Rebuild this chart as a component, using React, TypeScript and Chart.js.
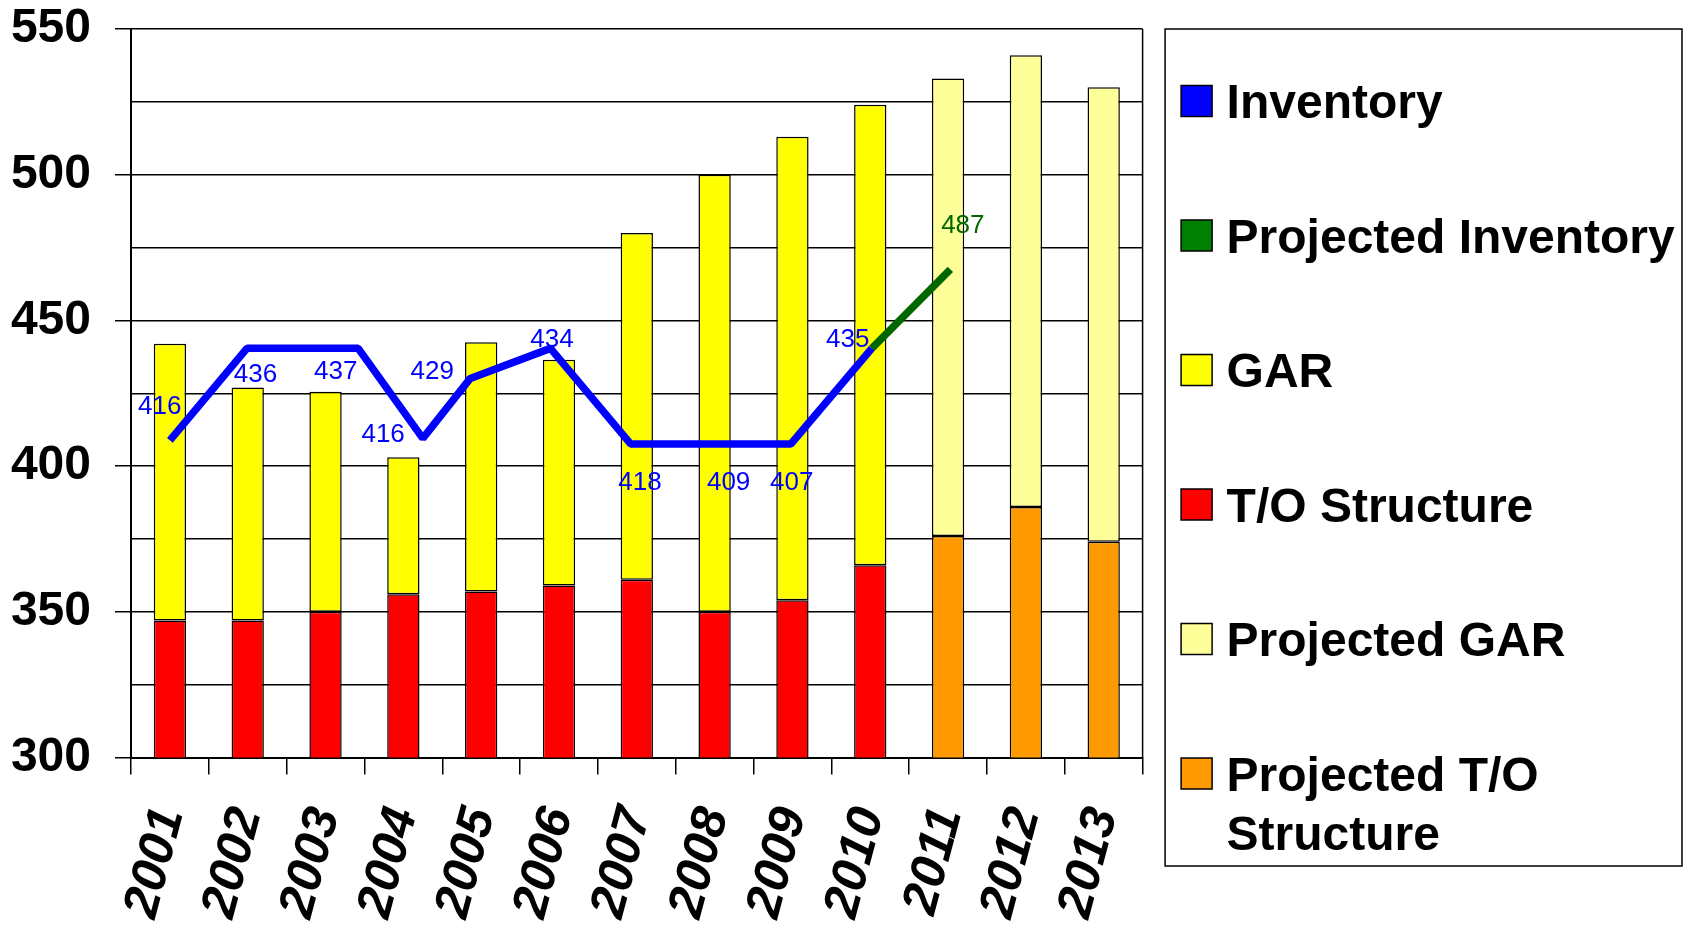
import React, { useEffect, useRef } from 'react';
import { Chart, registerables } from 'chart.js';

Chart.register(...registerables);

const FONT = '"Liberation Sans", Arial, Helvetica, sans-serif';

// ---- data ----
const years = ['2001', '2002', '2003', '2004', '2005', '2006', '2007', '2008', '2009', '2010', '2011', '2012', '2013'];
const toStructure = [347, 347, 350, 356, 357, 359, 361, 350, 354, 366, null, null, null];
const gar = [95, 80, 75.5, 47, 85.5, 77.5, 119, 150, 159, 158, null, null, null];
const projectedTO = [null, null, null, null, null, null, null, null, null, null, 376, 386, 374];
const projectedGAR = [null, null, null, null, null, null, null, null, null, null, 157, 155, 156];

// inventory line vertices (category-index position, value)
const inventoryX = [0, 0.99, 2.42, 3.25, 3.86, 4.89, 5.92, 7.98, 9.02];
const inventoryY = [408.8, 440.4, 440.4, 409.5, 430.1, 440.4, 407.6, 407.6, 440.4];
const projectedX = [9.02, 10.03];
const projectedY = [440.4, 467.5];

// value labels
const inventoryLabels = ['416', '436', '437', '416', '429', '434', '418', '409', '407', '435'];
const projectedLabels = ['487'];
const inventoryLabelX = [-0.13, 1.1, 2.13, 2.74, 3.37, 4.91, 6.04, 7.18, 7.99, 8.71];
const inventoryLabelY = [420.4, 431.3, 432.4, 410.7, 432.4, 443.5, 394.1, 394.1, 394.1, 443.5];
const projectedLabelX = [10.19];
const projectedLabelY = [482.5];

const yMin = 300;
const yMax = 550;
const yStep = 25;
const yLabelStep = 50;

const labelPlugin = {
  id: 'valueLabels',
  afterDatasetsDraw(chart: any) {
    const { ctx } = chart;
    const xs = chart.scales.x2;
    const ys = chart.scales.y;
    ctx.save();
    ctx.font = `26px ${FONT}`;
    ctx.textAlign = 'center';
    ctx.textBaseline = 'middle';
    ctx.fillStyle = '#0000ff';
    inventoryLabels.forEach((t, i) => {
      ctx.fillText(t, xs.getPixelForValue(inventoryLabelX[i]), ys.getPixelForValue(inventoryLabelY[i]));
    });
    ctx.fillStyle = '#006600';
    projectedLabels.forEach((t, i) => {
      ctx.fillText(t, xs.getPixelForValue(projectedLabelX[i]), ys.getPixelForValue(projectedLabelY[i]));
    });
    ctx.restore();
  },
};

const frameAndLegendPlugin = {
  id: 'frameLegend',
  afterDraw(chart: any) {
    const { ctx, chartArea } = chart;
    ctx.save();
    // right frame line of plot area
    ctx.strokeStyle = '#000';
    ctx.lineWidth = 1.5;
    ctx.beginPath();
    ctx.moveTo(chartArea.right, chartArea.top);
    ctx.lineTo(chartArea.right, chartArea.bottom);
    ctx.stroke();

    // legend box
    const left = chartArea.right + 22.5;
    const top = chartArea.top;
    const right = chart.width - 5;
    const bottom = 866;
    ctx.lineWidth = 1.5;
    ctx.strokeRect(left, top, right - left, bottom - top);

    const fontSize = 48;
    ctx.font = `bold ${fontSize}px ${FONT}`;
    ctx.textAlign = 'left';
    ctx.textBaseline = 'alphabetic';
    const maxTextW = right - (left + 61.5) - 6;
    chart.data.datasets.forEach((ds: any, i: number) => {
      const cy = top + 72 + i * 134.5;
      const bx = left + 16;
      ctx.fillStyle = ds.legendColor || ds.backgroundColor;
      ctx.fillRect(bx, cy - 15.5, 31, 31);
      ctx.strokeStyle = '#000';
      ctx.lineWidth = 1.5;
      ctx.strokeRect(bx, cy - 15.5, 31, 31);
      // wrap words
      const words = String(ds.label).split(' ');
      const lines: string[] = [];
      let cur = '';
      words.forEach((w) => {
        const test = cur ? cur + ' ' + w : w;
        if (cur && ctx.measureText(test).width > maxTextW) {
          lines.push(cur);
          cur = w;
        } else cur = test;
      });
      if (cur) lines.push(cur);
      ctx.fillStyle = '#000';
      lines.forEach((ln, k) => {
        ctx.fillText(ln, left + 61.5, cy + 17 + k * 59);
      });
    });
    ctx.restore();
  },
};

export default function App() {
  const ref = useRef<HTMLCanvasElement | null>(null);

  useEffect(() => {
    if (!ref.current) return;
    const barCommon = {
      type: 'bar',
      xAxisID: 'x',
      yAxisID: 'y',
      borderColor: '#000',
      borderWidth: 1.5,
      borderSkipped: false,
      grouped: false,
      stack: 'bars',
      barPercentage: 0.415,
      categoryPercentage: 1,
    };
    const chart = new Chart(ref.current, {
      type: 'bar',
      data: {
        labels: years,
        datasets: [
          {
            type: 'line',
            label: 'Inventory',
            data: inventoryX.map((x, i) => ({ x, y: inventoryY[i] })),
            xAxisID: 'x2',
            yAxisID: 'y2',
            borderColor: '#0000ff',
            backgroundColor: '#0000ff',
            borderWidth: 7.5,
            pointRadius: 0,
            tension: 0,
            borderJoinStyle: 'bevel',
            order: 0,
          } as any,
          {
            type: 'line',
            label: 'Projected Inventory',
            data: projectedX.map((x, i) => ({ x, y: projectedY[i] })),
            xAxisID: 'x2',
            yAxisID: 'y2',
            borderColor: '#006600',
            backgroundColor: '#008000',
            borderWidth: 7.5,
            pointRadius: 0,
            tension: 0,
            order: 0,
          } as any,
          { ...barCommon, label: 'GAR', data: gar, backgroundColor: '#ffff00', order: 2 } as any,
          { ...barCommon, label: 'T/O Structure', data: toStructure, backgroundColor: '#ff0000', order: 1 } as any,
          { ...barCommon, label: 'Projected GAR', data: projectedGAR, backgroundColor: '#ffff99', order: 4 } as any,
          { ...barCommon, label: 'Projected T/O Structure', data: projectedTO, backgroundColor: '#ff9900', order: 3 } as any,
        ],
      },
      options: {
        responsive: false,
        animation: false,
        layout: { padding: { left: 0, top: 29, right: 544.4, bottom: 0 } },
        plugins: {
          legend: { display: false },
          tooltip: { enabled: false },
          title: { display: false },
        },
        scales: {
          x: {
            type: 'category',
            stacked: true,
            offset: true,
            grid: {
              offset: true,
              drawOnChartArea: false,
              drawTicks: true,
              tickLength: 17,
              color: '#000',
              lineWidth: 1.5,
            },
            border: { display: true, color: '#000', width: 2 },
            ticks: {
              color: '#000',
              font: { family: FONT, size: 50, weight: 'bold', style: 'italic' },
              minRotation: 75,
              maxRotation: 75,
              autoSkip: false,
              padding: 27,
            },
            afterFit: (s: any) => {
              s.height = 925 - 757.5;
            },
          },
          y: {
            type: 'linear',
            stacked: true,
            min: yMin,
            max: yMax,
            ticks: {
              stepSize: yStep,
              autoSkip: false,
              color: '#000',
              padding: 24,
              font: { family: FONT, size: 48, weight: 'bold' },
              callback: (v: any) => (Number(v) % yLabelStep === 0 ? String(v) : ''),
            },
            grid: {
              color: '#000',
              lineWidth: 1.5,
              tickLength: 16,
              tickColor: (c: any) => (c.tick && c.tick.value % yLabelStep === 0 ? '#000' : 'rgba(0,0,0,0)'),
            },
            border: { display: true, color: '#000', width: 2 },
            afterFit: (s: any) => {
              s.width = 131;
              s.paddingTop = 0;
              s.paddingBottom = 0;
            },
          },
          x2: {
            type: 'linear',
            display: false,
            offset: false,
            min: -0.5,
            max: years.length - 0.5,
          },
          y2: {
            type: 'linear',
            display: false,
            stacked: false,
            min: yMin,
            max: yMax,
          },
        },
      } as any,
      plugins: [labelPlugin, frameAndLegendPlugin],
    });
    return () => chart.destroy();
  }, []);

  return (
    <div style={{ position: 'absolute', left: 0, top: 0, width: 1687, height: 925, background: '#fff' }}>
      <canvas ref={ref} width={1687} height={925} style={{ display: 'block', width: 1687, height: 925 }} />
    </div>
  );
}
